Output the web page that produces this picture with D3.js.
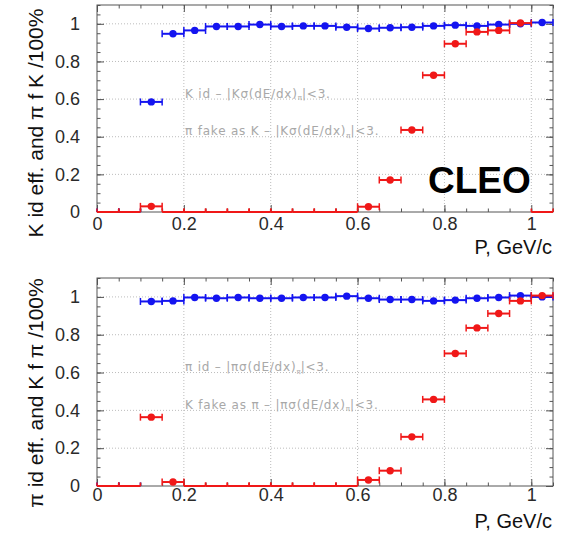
<!DOCTYPE html>
<html>
<head>
<meta charset="utf-8">
<script src="https://cdn.jsdelivr.net/npm/d3@7"></script>
<style>
  body { margin: 0; background: #fff; }
  svg { display: block; }
</style>
</head>
<body>
<svg id="chart" width="569" height="535"></svg>
<script>
// Momentum bins (GeV/c): centres, each bin is 0.05 wide
const binCenters = [0.025, 0.075, 0.125, 0.175, 0.225, 0.275, 0.325, 0.375, 0.425, 0.475, 0.525,
                    0.575, 0.625, 0.675, 0.725, 0.775, 0.825, 0.875, 0.925, 0.975, 1.025];
const binHalfWidth = 0.025;

// Upper panel: kaon identification efficiency and pion fake rate as K
const kIdEff    = [0, 0, 0.585, 0.947, 0.965, 0.986, 0.986, 0.996, 0.986, 0.989, 0.989,
                   0.982, 0.975, 0.979, 0.982, 0.989, 0.993, 0.989, 0.996, 1.000, 1.007];
const piFakeAsK = [0, 0, 0.030, 0, 0, 0, 0, 0, 0, 0, 0,
                   0, 0.028, 0.170, 0.436, 0.727, 0.894, 0.957, 0.965, 1.004, 0];

// Lower panel: pion identification efficiency and kaon fake rate as pi
const piIdEff   = [0, 0, 0.976, 0.979, 0.997, 0.993, 0.997, 0.993, 0.993, 0.997, 0.997,
                   1.004, 0.993, 0.986, 0.986, 0.979, 0.983, 0.993, 0.997, 1.007, 1.000];
const kFakeAsPi = [0, 0, 0.364, 0.021, 0, 0, 0, 0, 0, 0, 0,
                   0, 0.032, 0.081, 0.260, 0.458, 0.701, 0.836, 0.912, 0.979, 1.007];

const xTicks = [0, 0.2, 0.4, 0.6, 0.8, 1];
const xTickLabels = ["0", "0.2", "0.4", "0.6", "0.8", "1"];
const yTicks = [0, 0.2, 0.4, 0.6, 0.8, 1];
const yTickLabels = ["0", "0.2", "0.4", "0.6", "0.8", "1"];

const BLUE = "#1414f0";
const RED = "#f01818";
const FRAME = "#555";

const svg = d3.select("#chart");
const left = 97, right = 553;
const x = d3.scaleLinear().domain([0, 1.05]).range([left, right]);

const minorX = d3.range(0, 22).map(i => i * 0.05).filter(v => v <= 1.05 + 1e-9);
const minorY = d3.range(0, 23).map(i => i * 0.05).filter(v => v <= 1.1 + 1e-9);

function drawPanel(cfg) {
  const y = d3.scaleLinear().domain([0, 1.1]).range([cfg.bottom, cfg.top]);
  const g = svg.append("g");

  // dotted grid at the major divisions
  const grid = g.append("g").attr("stroke", "#bcbcbc").attr("stroke-width", 1)
    .attr("stroke-dasharray", "1,2");
  grid.selectAll("line.gx").data(xTicks.filter(d => d > 0)).join("line")
    .attr("x1", d => x(d)).attr("x2", d => x(d))
    .attr("y1", cfg.top).attr("y2", cfg.bottom);
  grid.selectAll("line.gy").data(yTicks.filter(d => d > 0)).join("line")
    .attr("x1", left).attr("x2", right)
    .attr("y1", d => y(d)).attr("y2", d => y(d));

  // frame with inward ticks on all four sides
  const axes = g.append("g").attr("color", FRAME);
  const clean = sel => sel.call(s => s.select(".domain").remove());
  axes.append("g").attr("transform", `translate(0,${cfg.bottom})`)
    .call(d3.axisBottom(x).tickValues(minorX).tickSize(-3.5).tickFormat("")).call(clean);
  axes.append("g").attr("transform", `translate(0,${cfg.top})`)
    .call(d3.axisTop(x).tickValues(minorX).tickSize(-3.5).tickFormat("")).call(clean);
  axes.append("g").attr("transform", `translate(${left},0)`)
    .call(d3.axisLeft(y).tickValues(minorY).tickSize(-3.5).tickFormat("")).call(clean);
  axes.append("g").attr("transform", `translate(${right},0)`)
    .call(d3.axisRight(y).tickValues(minorY).tickSize(-3.5).tickFormat("")).call(clean);
  axes.append("g").attr("transform", `translate(0,${cfg.top})`)
    .call(d3.axisTop(x).tickValues(xTicks).tickSize(-7).tickFormat("")).call(clean);
  axes.append("g").attr("transform", `translate(${right},0)`)
    .call(d3.axisRight(y).tickValues(yTicks).tickSize(-7).tickFormat("")).call(clean);

  const xAxis = axes.append("g").attr("transform", `translate(0,${cfg.bottom})`)
    .call(d3.axisBottom(x).tickValues(xTicks).tickSize(-7).tickPadding(cfg.xPad)
      .tickFormat((d, i) => xTickLabels[i])).call(clean);
  const yAxis = axes.append("g").attr("transform", `translate(${left},0)`)
    .call(d3.axisLeft(y).tickValues(yTicks).tickSize(-7).tickPadding(17)
      .tickFormat((d, i) => yTickLabels[i])).call(clean);
  [xAxis, yAxis].forEach(a => a.selectAll("text")
    .attr("fill", "#2a2a2a").style("font-family", "'Liberation Sans', Arial, sans-serif")
    .style("font-size", "18px"));

  g.append("rect").attr("x", left).attr("y", cfg.top)
    .attr("width", right - left).attr("height", cfg.bottom - cfg.top)
    .attr("fill", "none").attr("stroke", FRAME).attr("stroke-width", 1);

  // legend-style annotations inside the frame
  const notes = g.append("g").attr("fill", "#a8a8a8")
    .style("font-family", "'DejaVu Sans', sans-serif").style("font-size", "12px")
    .style("letter-spacing", "0.8px");
  cfg.notes.forEach(n => {
    const t = notes.append("text").attr("x", 185).attr("y", y(n.at) - 1.5);
    t.append("tspan").text(n.pre);
    t.append("tspan").attr("dy", 2.5).style("font-size", "7px").style("letter-spacing", "0px").text("π");
    t.append("tspan").attr("dy", -2.5).text("|<3.");
  });

  // histogram-style points: bin-wide horizontal error bars with end ticks
  cfg.series.forEach(s => {
    const sg = g.append("g").attr("stroke", s.color).attr("fill", s.color);
    const pts = binCenters.map((c, i) => ({ c, v: s.values[i] }));
    sg.selectAll("line.bar").data(pts).join("line").attr("class", "bar")
      .attr("x1", d => x(d.c - binHalfWidth)).attr("x2", d => x(d.c + binHalfWidth))
      .attr("y1", d => y(d.v)).attr("y2", d => y(d.v)).attr("stroke-width", 2);
    sg.selectAll("line.capL").data(pts).join("line").attr("class", "capL")
      .attr("x1", d => x(d.c - binHalfWidth)).attr("x2", d => x(d.c - binHalfWidth))
      .attr("y1", d => y(d.v) - 3.5).attr("y2", d => y(d.v) + (d.v > 0 ? 3.5 : 0))
      .attr("stroke-width", 1.5);
    sg.selectAll("line.capR").data(pts).join("line").attr("class", "capR")
      .attr("x1", d => x(d.c + binHalfWidth)).attr("x2", d => x(d.c + binHalfWidth))
      .attr("y1", d => y(d.v) - 3.5).attr("y2", d => y(d.v) + (d.v > 0 ? 3.5 : 0))
      .attr("stroke-width", 1.5);
    sg.selectAll("circle").data(pts.filter(d => d.v > 0)).join("circle")
      .attr("cx", d => x(d.c)).attr("cy", d => y(d.v)).attr("r", 3.7).attr("stroke", "none");
  });

  // axis titles
  svg.append("text")
    .attr("transform", `translate(43,${cfg.titleY}) rotate(-90)`)
    .attr("text-anchor", "middle").attr("fill", "#111")
    .style("font-family", "'Liberation Sans', Arial, sans-serif").style("font-size", "21px")
    .text(cfg.yTitle);
  svg.append("text").attr("x", 552).attr("y", cfg.bottom + 42)
    .attr("text-anchor", "end").attr("fill", "#111")
    .style("font-family", "'Liberation Sans', Arial, sans-serif").style("font-size", "20px")
    .text("P, GeV/c");

  if (cfg.label) {
    svg.append("text").attr("x", 428).attr("y", 193).attr("fill", "#000")
      .style("font-family", "'Liberation Sans', Arial, sans-serif")
      .style("font-size", "37px").style("font-weight", "bold").text(cfg.label);
  }
}

drawPanel({
  top: 5, bottom: 212, xPad: 5, titleY: 123,
  yTitle: "K id eff. and π f K /100%",
  label: "CLEO",
  notes: [
    { at: 0.6, pre: "K id – |Kσ(dE/dx)" },
    { at: 0.4, pre: "π fake as K – |Kσ(dE/dx)" }
  ],
  series: [
    { values: kIdEff, color: BLUE },
    { values: piFakeAsK, color: RED }
  ]
});

drawPanel({
  top: 278, bottom: 486, xPad: 2, titleY: 393,
  yTitle: "π id eff. and K f π /100%",
  notes: [
    { at: 0.6, pre: "π id – |πσ(dE/dx)" },
    { at: 0.4, pre: "K fake as π – |πσ(dE/dx)" }
  ],
  series: [
    { values: piIdEff, color: BLUE },
    { values: kFakeAsPi, color: RED }
  ]
});
</script>
</body>
</html>
